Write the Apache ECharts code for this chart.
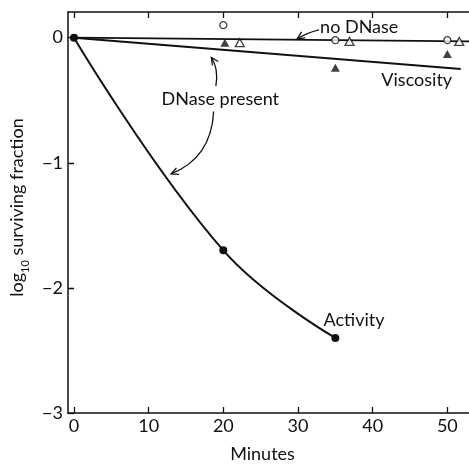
<!DOCTYPE html>
<html>
<head>
<meta charset="utf-8">
<script src="https://cdn.jsdelivr.net/npm/echarts@6/dist/echarts.min.js"></script>
<style>
  html, body { margin: 0; padding: 0; background: #fff; }
  #chart { width: 469px; height: 468px; }
</style>
</head>
<body>
<div id="chart"></div>
<script>
// Axis ticks
const xTicks = [0, 10, 20, 30, 40, 50];
const yTicks = [0, -1, -2, -3];

// DNase present: biological activity (filled circles, smooth curve)
const activityMin = [0, 20, 35];
const activityLog = [0, -1.70, -2.40];

// DNase present: viscosity (filled triangles) and its fitted line
const viscMin = [20.2, 35, 50];
const viscLog = [-0.04, -0.24, -0.13];
const viscFitMin = [0, 51.8];
const viscFitLog = [0, -0.25];

// No DNase: activity (open circles), viscosity (open triangles), common line
const ctrlActMin = [20, 35, 50];
const ctrlActLog = [0.10, -0.02, -0.02];
const ctrlViscMin = [22.2, 36.9, 51.6];
const ctrlViscLog = [-0.04, -0.03, -0.03];
const ctrlFitMin = [0, 52.9];
const ctrlFitLog = [0, -0.03];

const pairs = (xs, ys) => xs.map((x, i) => [x, ys[i]]);

const FONT = 'Lato';
const INK = '#111';
const FS = 18;

const chart = echarts.init(document.getElementById('chart'), null, { renderer: 'canvas' });

const axisLine = { show: true, onZero: false, lineStyle: { color: INK, width: 1.5 } };
const tickStyle = { color: INK, width: 1.3 };

const option = {
  animation: false,
  backgroundColor: '#fff',
  textStyle: { fontFamily: FONT, color: INK },
  grid: { left: 60, right: 0, top: 12, bottom: 50 },
  xAxis: [
    {
      type: 'value', position: 'bottom', min: -0.8, max: 52.9,
      axisLine,
      splitLine: { show: false },
      axisTick: { show: true, inside: true, length: 6, customValues: xTicks, lineStyle: tickStyle },
      axisLabel: { customValues: xTicks, fontSize: FS, color: INK, fontFamily: FONT, margin: 4 },
      name: 'Minutes', nameLocation: 'middle', nameGap: 32,
      nameTextStyle: { fontSize: FS, color: INK, fontFamily: FONT, padding: [0, 12, 0, 0] }
    },
    {
      type: 'value', position: 'top', min: -0.8, max: 52.9,
      axisLine,
      splitLine: { show: false },
      axisTick: { show: true, inside: true, length: 6, customValues: xTicks, lineStyle: tickStyle },
      axisLabel: { show: false }
    }
  ],
  yAxis: [
    {
      type: 'value', position: 'left', min: -3, max: 0.205,
      axisLine,
      splitLine: { show: false },
      axisTick: { show: true, inside: true, length: 6, customValues: yTicks, lineStyle: tickStyle },
      axisLabel: {
        customValues: yTicks, fontSize: FS, color: INK, fontFamily: FONT, margin: 5,
        formatter: v => String(v).replace('-', '\u2212')
      },
      name: '{t|log}{s|10}{t| surviving fraction}',
      nameLocation: 'middle', nameGap: 40,
      nameTextStyle: {
        fontFamily: FONT, color: INK, padding: [0, 0, 0, 10],
        rich: {
          t: { fontSize: FS, fontFamily: FONT, color: INK, lineHeight: 22, verticalAlign: 'middle' },
          s: { fontSize: 11, fontFamily: FONT, color: INK, lineHeight: 22, verticalAlign: 'bottom', padding: [0, 0, -3, 0] }
        }
      }
    },
    {
      type: 'value', position: 'right', min: -3, max: 0.205,
      axisLine: { show: false },
      splitLine: { show: false },
      axisTick: { show: true, inside: true, length: 5, customValues: [-1, -2], lineStyle: tickStyle },
      axisLabel: { show: false }
    }
  ],
  series: [
    {
      name: 'Activity (DNase)', type: 'line', smooth: 0.42,
      data: pairs(activityMin, activityLog),
      symbol: 'circle', symbolSize: 8,
      lineStyle: { color: INK, width: 2 },
      itemStyle: { color: INK },
      z: 3
    },
    {
      name: 'Viscosity fit (DNase)', type: 'line',
      data: pairs(viscFitMin, viscFitLog),
      showSymbol: false, symbol: 'none',
      lineStyle: { color: INK, width: 2 },
      z: 2
    },
    {
      name: 'No DNase fit', type: 'line',
      data: pairs(ctrlFitMin, ctrlFitLog),
      showSymbol: false, symbol: 'none',
      lineStyle: { color: INK, width: 1.8 },
      z: 2
    },
    {
      name: 'Viscosity (DNase)', type: 'scatter',
      data: pairs(viscMin, viscLog),
      symbol: 'triangle', symbolSize: [9, 8],
      itemStyle: { color: INK },
      z: 4
    },
    {
      name: 'Activity (no DNase)', type: 'scatter',
      data: pairs(ctrlActMin, ctrlActLog),
      symbol: 'circle', symbolSize: 7,
      itemStyle: { color: '#fff', borderColor: INK, borderWidth: 1.3 },
      z: 4
    },
    {
      name: 'Viscosity (no DNase)', type: 'scatter',
      data: pairs(ctrlViscMin, ctrlViscLog),
      symbol: 'triangle', symbolSize: [9, 8],
      itemStyle: { color: '#fff', borderColor: INK, borderWidth: 1.3 },
      z: 4
    }
  ]
};

chart.setOption(option);

// Annotation anchors, in data units (minutes, log10 fraction)
const labels = [
  { text: 'no DNase', at: [38.2, 0.087] },
  { text: 'DNase present', at: [19.6, -0.49] },
  { text: 'Viscosity', at: [45.9, -0.34] },
  { text: 'Activity', at: [37.5, -2.26] }
];
// Pointer arrows: tail, control point, head
const arrows = [
  { tail: [32.8, 0.063], ctrl: [31.2, 0.04], head: [29.9, -0.008] },
  { tail: [19.0, -0.387], ctrl: [19.4, -0.25], head: [18.4, -0.158] },
  { tail: [18.7, -0.59], ctrl: [18.4, -0.96], head: [13.0, -1.089] }
];

const px = p => chart.convertToPixel({ xAxisIndex: 0, yAxisIndex: 0 }, p);

const graphics = [];
labels.forEach(l => {
  const [x, y] = px(l.at);
  graphics.push({
    type: 'text', x, y, z: 10,
    style: { text: l.text, font: `${FS}px ${FONT}`, fill: INK, align: 'center', verticalAlign: 'middle' }
  });
});
arrows.forEach(a => {
  const t = px(a.tail), c = px(a.ctrl), h = px(a.head);
  graphics.push({
    type: 'bezierCurve', z: 10,
    shape: { x1: t[0], y1: t[1], cpx1: c[0], cpy1: c[1], x2: h[0], y2: h[1] },
    style: { stroke: INK, lineWidth: 1.3, fill: null }
  });
  const ang = Math.atan2(h[1] - c[1], h[0] - c[0]);
  const L = 8, spread = 0.45;
  const p1 = [h[0] - L * Math.cos(ang - spread), h[1] - L * Math.sin(ang - spread)];
  const p2 = [h[0] - L * Math.cos(ang + spread), h[1] - L * Math.sin(ang + spread)];
  graphics.push({
    type: 'polyline', z: 10,
    shape: { points: [p1, h, p2] },
    style: { stroke: INK, lineWidth: 1.3, fill: null }
  });
});

chart.setOption({ graphic: graphics });
</script>
</body>
</html>
